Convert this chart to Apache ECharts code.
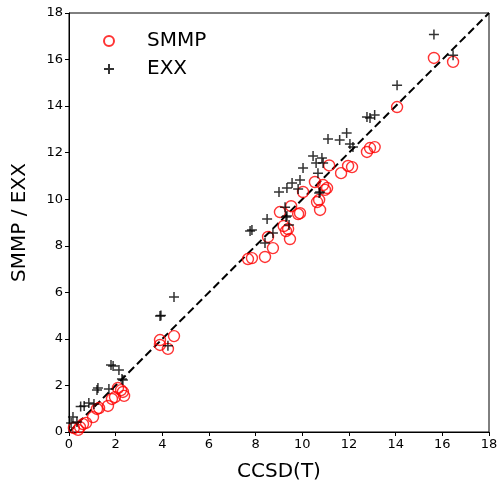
<!DOCTYPE html>
<html>
<head>
<meta charset="utf-8">
<script src="https://cdn.jsdelivr.net/npm/echarts@6/dist/echarts.min.js"></script>
<style>
  html, body { margin: 0; padding: 0; background: #fff; }
  #chart { width: 498px; height: 482px; }
</style>
</head>
<body>
<div id="chart"></div>
<script>
// values: [CCSD(T), method]
var smmpPoints = [
  [0.21, 0.17], [0.39, 0.09], [0.47, 0.21], [0.6, 0.34], [0.73, 0.39], [1.03, 0.64],
  [1.2, 0.99], [1.29, 1.03], [1.67, 1.12], [1.84, 1.42], [1.97, 1.5], [2.1, 1.89],
  [2.23, 1.8], [2.31, 1.72], [2.36, 1.55],
  [3.9, 3.95], [3.9, 3.74], [4.24, 3.57], [4.5, 4.12],
  [7.67, 7.43], [7.84, 7.47], [8.4, 7.52], [8.74, 7.9], [8.53, 8.38], [9.47, 8.29],
  [9.3, 8.63], [9.39, 8.72], [9.2, 8.85], [9.04, 9.45], [9.52, 9.7], [9.82, 9.36],
  [9.9, 9.4], [10.03, 10.31], [10.54, 10.74], [10.76, 9.54], [10.63, 9.88], [10.72, 9.97],
  [10.89, 10.61], [11.06, 10.48], [10.97, 10.4], [11.15, 11.45], [11.66, 11.12],
  [11.96, 11.43], [12.13, 11.38],
  [12.77, 12.03], [12.9, 12.2], [13.1, 12.24], [14.06, 13.96], [15.64, 16.07], [16.46, 15.9]
];
var exxPoints = [
  [0.09, 0.39], [0.17, 0.64], [0.34, 0.43], [0.5, 1.1], [0.65, 1.12], [0.85, 1.25],
  [1.07, 1.2], [1.2, 1.8], [1.24, 1.89], [1.71, 1.85], [1.8, 2.88], [1.89, 2.84],
  [2.14, 2.66], [2.27, 2.28], [2.31, 2.23],
  [3.9, 4.98], [3.94, 5.0], [4.5, 5.8], [4.24, 3.7],
  [7.76, 8.63], [7.84, 8.68], [8.49, 9.15], [8.4, 8.12], [8.74, 8.55], [9.0, 10.31],
  [9.34, 10.48], [9.56, 10.7], [9.82, 10.44], [9.9, 10.83], [10.03, 11.34], [9.26, 9.66],
  [9.3, 9.24], [9.34, 9.28], [9.43, 8.89], [10.46, 11.86], [10.59, 11.56], [10.84, 11.77],
  [10.89, 11.56], [10.67, 11.12], [10.76, 10.31], [10.72, 10.27], [11.1, 12.59],
  [11.6, 12.54], [11.9, 12.84], [12.04, 12.37], [12.17, 12.24],
  [12.77, 13.53], [12.9, 13.49], [13.1, 13.62], [14.06, 14.9], [15.64, 17.08], [16.46, 16.19]
];
var diagonal = [[0, 0], [18, 18]];
var seriesNames = ['SMMP', 'EXX'];

var font = 'DejaVu Sans';
var plusPath = 'path://M0,5L10,5M5,0L5,10';

var axisCommon = {
  type: 'value',
  min: 0,
  max: 18,
  interval: 2,
  nameLocation: 'middle',
  nameTextStyle: { fontFamily: font, fontSize: 20, color: '#000' },
  axisLine: { show: true, lineStyle: { color: '#000', width: 1 } },
  axisTick: { show: true, inside: false, length: 4, lineStyle: { color: '#000' } },
  axisLabel: { fontFamily: font, fontSize: 13, color: '#000', margin: 6 },
  splitLine: { show: false }
};

var option = {
  backgroundColor: '#fff',
  animation: false,
  grid: {
    left: 69, right: 9, top: 13, bottom: 50,
    outerBoundsMode: 'none',
    show: true, borderColor: '#000', borderWidth: 1, backgroundColor: 'transparent'
  },
  xAxis: Object.assign({}, axisCommon, { name: 'CCSD(T)', nameGap: 30 }),
  yAxis: Object.assign({}, axisCommon, { name: 'SMMP / EXX', nameGap: 39 }),
  legend: {
    orient: 'vertical',
    left: 98,
    top: 26,
    itemWidth: 10,
    itemHeight: 10,
    itemGap: 8,
    data: seriesNames,
    textStyle: { fontFamily: font, fontSize: 20, color: '#000', padding: [0, 0, 0, 28] }
  },
  series: [
    {
      type: 'line',
      data: diagonal,
      symbol: 'none',
      silent: true,
      lineStyle: { color: '#000', width: 2, type: [8, 4] },
      z: 1
    },
    {
      name: seriesNames[0],
      type: 'scatter',
      data: smmpPoints,
      symbol: 'circle',
      symbolSize: 11,
      itemStyle: { color: 'rgba(255,255,255,0)', borderColor: '#ff0000', borderWidth: 1.4 },
      z: 2
    },
    {
      name: seriesNames[1],
      type: 'scatter',
      data: exxPoints,
      symbol: plusPath,
      symbolSize: 10,
      itemStyle: { color: 'rgba(0,0,0,0)', borderColor: '#000', borderWidth: 1.5 },
      z: 3
    }
  ]
};

var myChart = echarts.init(document.getElementById('chart'));
myChart.setOption(option);
</script>
</body>
</html>
